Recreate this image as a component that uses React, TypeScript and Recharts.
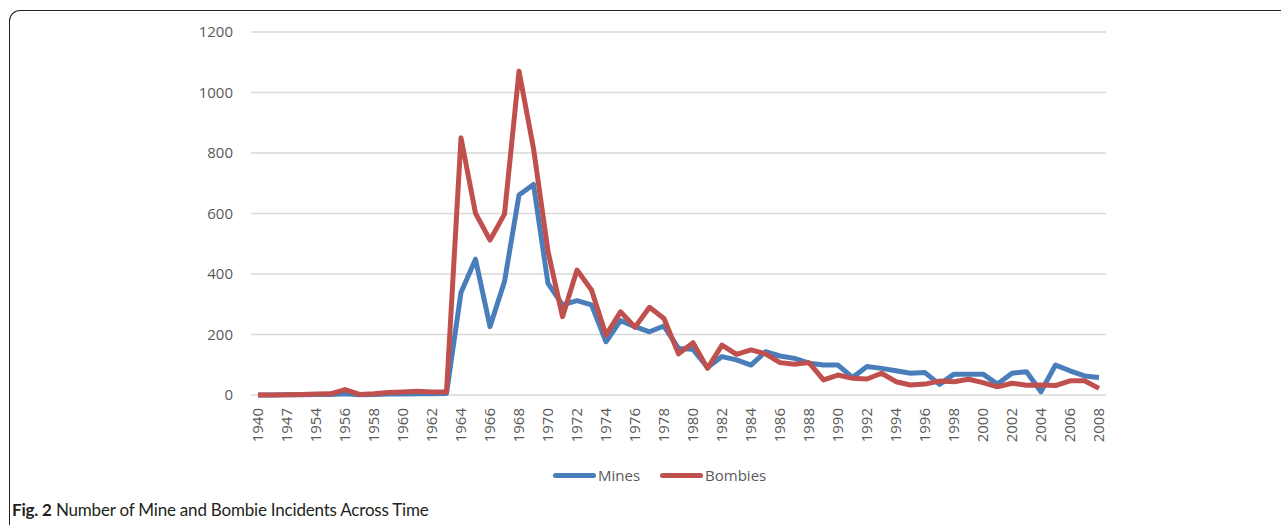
import React from 'react';
import { LineChart, Line, XAxis, YAxis, CartesianGrid } from 'recharts';

const years = [
  '1940', '1945', '1947', '1950', '1954', '1955', '1956', '1957', '1958', '1959',
  '1960', '1961', '1962', '1963', '1964', '1965', '1966', '1967', '1968', '1969',
  '1970', '1971', '1972', '1973', '1974', '1975', '1976', '1977', '1978', '1979',
  '1980', '1981', '1982', '1983', '1984', '1985', '1986', '1987', '1988', '1989',
  '1990', '1991', '1992', '1993', '1994', '1995', '1996', '1997', '1998', '1999',
  '2000', '2001', '2002', '2003', '2004', '2005', '2006', '2007', '2008',
];

const mines = [
  0, 0, 1, 1, 2, 2, 4, 1, 2, 3, 3, 4, 4, 5,
  339, 449, 226, 375, 661, 696, 369, 298, 312, 298,
  176, 246, 226, 209, 228, 154, 151, 91, 127, 116,
  99, 143, 129, 121, 105, 99, 99, 58, 94, 88,
  80, 72, 74, 35, 69, 69, 69, 36, 72, 77,
  11, 99, 80, 63, 58,
];

const bombies = [
  0, 0, 1, 2, 3, 4, 18, 2, 4, 8, 10, 12, 10, 10,
  850, 601, 512, 598, 1070, 815, 475, 259, 413, 347,
  198, 275, 224, 290, 253, 136, 173, 88, 165, 134,
  149, 136, 107, 102, 107, 50, 66, 55, 53, 72,
  44, 33, 36, 46, 44, 52, 41, 27, 39, 32,
  33, 31, 47, 47, 22,
];

const yTicks = [0, 200, 400, 600, 800, 1000, 1200];

const BLUE = '#4a7ebb';
const RED = '#c0504d';
const TEXT = '#595959';
const FONT = '"Open Sans", sans-serif';

const data = years.map((year, i) => ({ year, Mines: mines[i], Bombies: bombies[i] }));

const YearTick = (props: any) => {
  const { x, y, payload } = props;
  return (
    <text
      x={x}
      y={y}
      transform={`rotate(-90, ${x}, ${y})`}
      textAnchor="end"
      dy={5}
      fontSize={15}
      fontFamily={FONT}
      fill={TEXT}
    >
      {payload.value}
    </text>
  );
};

const LegendItem = ({ color, label }: { color: string; label: string }) => (
  <div style={{ display: 'flex', alignItems: 'center' }}>
    <div style={{ width: 43, height: 5, borderRadius: 2.5, background: color }} />
    <span style={{ marginLeft: 2 }}>{label}</span>
  </div>
);

export default function App() {
  return (
    <div style={{ position: 'absolute', left: 0, top: 0, width: 1281, height: 525, background: '#fff', overflow: 'hidden' }}>
      <div
        style={{
          position: 'absolute',
          left: 9,
          top: 10,
          width: 1300,
          height: 540,
          borderLeft: '1.5px solid #222',
          borderTop: '1.5px solid #222',
          borderTopLeftRadius: 11,
        }}
      />
      <div style={{ position: 'absolute', left: 0, top: 0 }}>
        <LineChart
          width={1281}
          height={525}
          data={data}
          margin={{ top: 32, right: 175, bottom: 70, left: 191 }}
        >
          <CartesianGrid vertical={false} stroke="#d9d9d9" strokeWidth={1.5} />
          <XAxis
            dataKey="year"
            interval={1}
            padding={{ left: 7, right: 7 }}
            axisLine={false}
            tickLine={false}
            height={60}
            tick={<YearTick />}
            tickMargin={7}
          />
          <YAxis
            domain={[0, 1200]}
            ticks={yTicks}
            width={60}
            axisLine={false}
            tickLine={false}
            tickSize={6}
            tickMargin={12}
            tick={{ fontSize: 15, fontFamily: FONT, fill: TEXT }}
          />
          <Line
            type="linear"
            dataKey="Mines"
            stroke={BLUE}
            strokeWidth={5}
            strokeLinejoin="round"
            dot={false}
            isAnimationActive={false}
          />
          <Line
            type="linear"
            dataKey="Bombies"
            stroke={RED}
            strokeWidth={5}
            strokeLinejoin="round"
            dot={false}
            isAnimationActive={false}
          />
        </LineChart>
      </div>
      <div
        style={{
          position: 'absolute',
          left: 553,
          top: 465,
          display: 'flex',
          gap: 20,
          fontFamily: FONT,
          fontSize: 15,
          color: TEXT,
        }}
      >
        <LegendItem color={BLUE} label="Mines" />
        <LegendItem color={RED} label="Bombies" />
      </div>
      <div
        style={{
          position: 'absolute',
          left: 12,
          top: 499,
          fontFamily: 'Lato, sans-serif',
          fontSize: 17,
          letterSpacing: -0.2,
          color: '#231f20',
          whiteSpace: 'nowrap',
        }}
      >
        <b>Fig. 2</b> Number of Mine and Bombie Incidents Across Time
      </div>
    </div>
  );
}
